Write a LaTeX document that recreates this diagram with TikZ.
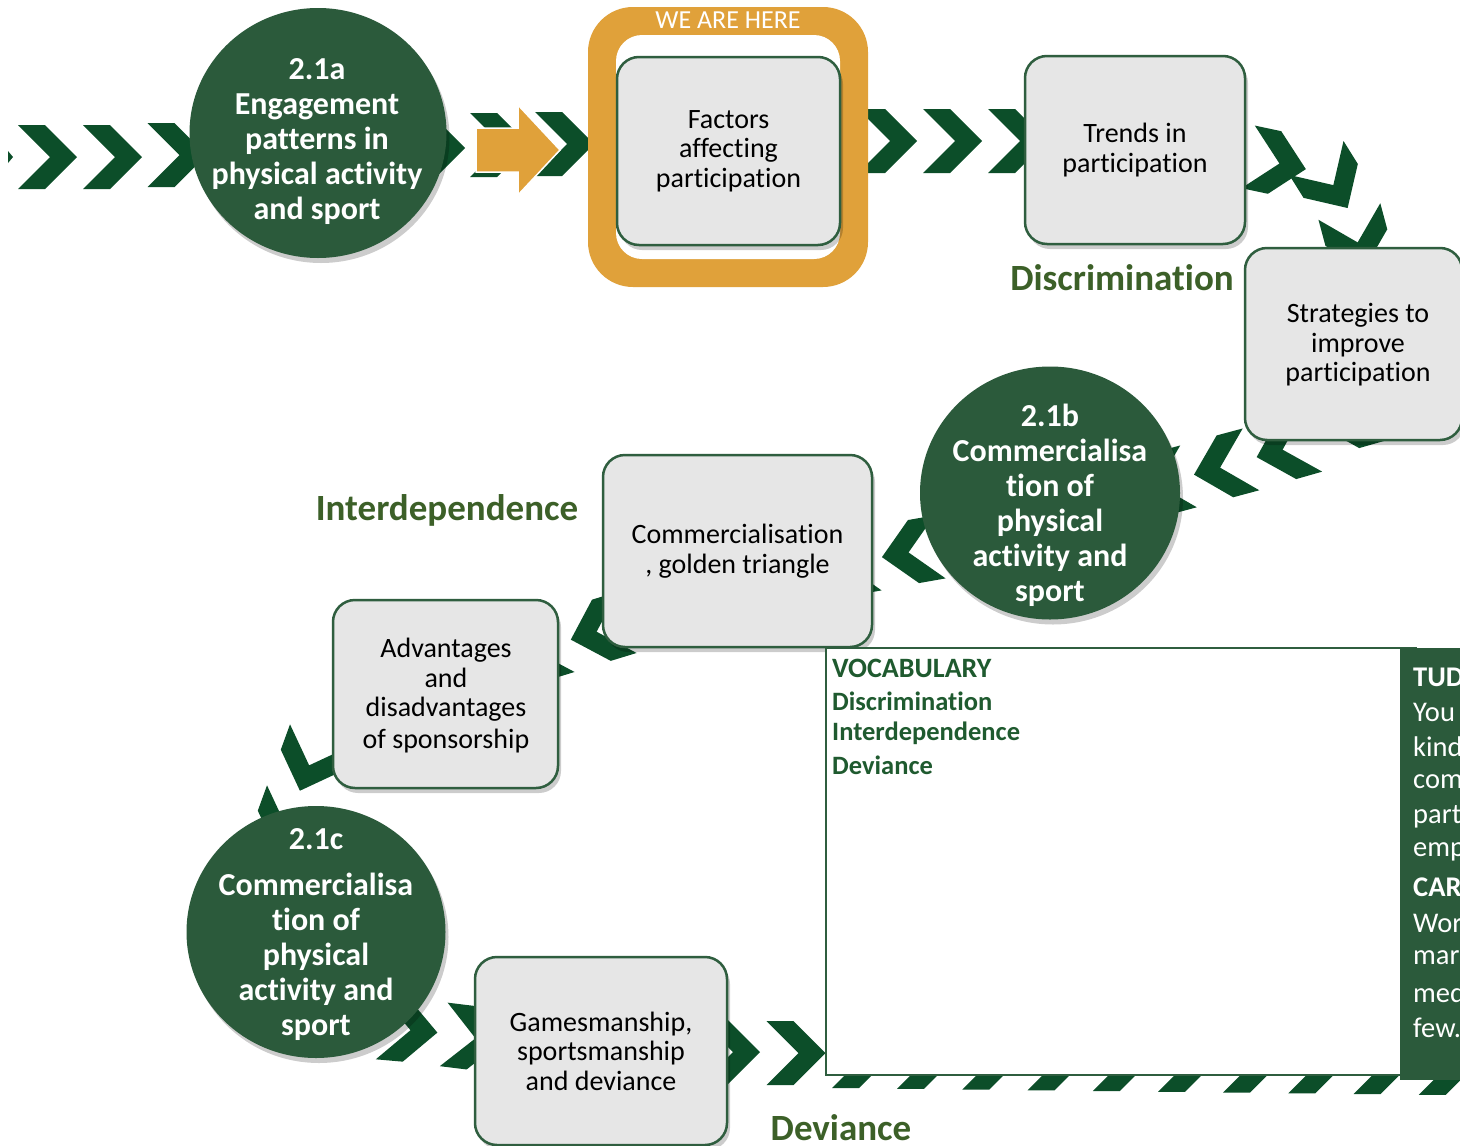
\documentclass[tikz,border=0pt]{standalone}
\usepackage{fontspec}
\setmainfont{Carlito}[Ligatures=NoCommon]
\usetikzlibrary{shapes.geometric,shadows}
\definecolor{circc}{HTML}{2B5A3B}
\definecolor{chevc}{HTML}{0C4E29}
\definecolor{orngc}{HTML}{E0A13A}
\definecolor{boxf}{HTML}{E6E6E6}
\definecolor{boxd}{HTML}{2F5E3F}
\definecolor{lblc}{HTML}{3C6028}
\definecolor{vocc}{HTML}{1F5A2F}
\tikzset{
  chevron/.pic={\fill[chevc] (-29.5,32) -- (-2.5,32) -- (29.5,0) -- (-2.5,-32) -- (-29.5,-32) -- (2.5,0) -- cycle;},
  softshadow/.style={drop shadow={shadow xshift=3pt, shadow yshift=-5pt, opacity=0.2, fill=black}},
  topic/.style={ellipse, fill=circc, inner sep=0pt, softshadow},
  ctext/.style={text=white, align=center, inner sep=0pt, font=\fontsize{32}{35}\selectfont\bfseries},
  stepbox/.style={rectangle, rounded corners=22pt, fill=boxf, draw=boxd, line width=2.5pt, align=center, inner sep=0pt, font=\fontsize{28}{29.5}\selectfont, softshadow},
  steptext/.style={align=center, inner sep=0pt, font=\fontsize{28}{29.5}\selectfont},
  theme/.style={text=lblc, inner sep=0pt, font=\fontsize{37}{40}\selectfont\bfseries},
  vocab/.style={text=vocc, anchor=west, inner sep=0pt, font=\fontsize{26.5}{30}\selectfont\bfseries},
  paneltext/.style={text=white, anchor=west, inner sep=0pt, font=\fontsize{28.5}{32}\selectfont},
}
\begin{document}
\begin{tikzpicture}[x=1pt,y=-1pt]
\useasboundingbox (0,0) rectangle (1460,1146);
\clip (0,0) rectangle (1460,1146);
\fill[white] (0,0) rectangle (1460,1146);

% ---- chevron trail ----
\fill[chevc] (8,151) -- (13,157) -- (8,163) -- cycle;
\pic at (47.5,157) {chevron};
\pic at (112.5,157) {chevron};
\pic at (177,155) {chevron};
\pic at (435.5,148) {chevron};
\pic at (499.5,145) {chevron};
\pic at (564.5,144) {chevron};
\pic at (887.5,141) {chevron};
\pic at (952.5,141) {chevron};
\pic at (1017.5,141) {chevron};
\pic[rotate=-12] at (1277,163) {chevron};
\pic[rotate=-58] at (1332,183) {chevron};
\pic[rotate=-75] at (1357,240) {chevron};
\pic[rotate=-164] at (1348,418) {chevron};
\pic[rotate=-164] at (1285,449) {chevron};
\pic[rotate=-165] at (1222.5,467) {chevron};
\pic[rotate=-165] at (1160,484) {chevron};
\pic[rotate=-170] at (911,552) {chevron};
\pic[rotate=-170] at (847,564) {chevron};
\pic[rotate=-163] at (599,631) {chevron};
\pic[rotate=-163] at (537,650) {chevron};
\pic[rotate=-110] at (310,763) {chevron};
\pic[rotate=-110] at (287,824) {chevron};
\pic[rotate=-5] at (408,1030) {chevron};
\pic[rotate=-7] at (473,1038) {chevron};
\pic at (730.5,1052) {chevron};
\pic at (796,1053) {chevron};
\foreach \k in {0,...,9}{
  \pic at ({861.5+65.2*\k},{1056+0.75*\k}) {chevron};
}

% ---- topic circles ----
\node[topic, minimum width=257pt, minimum height=250pt] (c1) at (318,133) {};
\node[ctext] (c1t) at (317,142) {2.1a\\Engagement\\patterns in\\physical activity\\and sport};
\node[topic, minimum width=260pt, minimum height=253pt] (c2) at (1050,493) {};
\node[ctext] (c2t) at (1050,505) {2.1b\\Commercialisa\\tion of\\physical\\activity and\\sport};
\node[topic, minimum width=259pt, minimum height=252pt] (c3) at (316,932) {};
\node[ctext] (c3a) at (316,839) {2.1c};
\node[ctext] (c3t) at (316,957) {Commercialisa\\tion of\\physical\\activity and\\sport};

% ---- WE ARE HERE frame ----
\fill[orngc, rounded corners=45pt] (588,7) rectangle (868,287);
\fill[white, rounded corners=26pt] (616,35) rectangle (840,259);
\node[text=white, inner sep=0pt, font=\fontsize{26}{28}\selectfont] (here) at (728,20) {WE ARE HERE};

% ---- orange arrow ----
\filldraw[fill=orngc, draw=white, line width=1.5pt] (476,128) -- (518,128) -- (518,105) -- (560,150) -- (518,195) -- (518,172) -- (476,172) -- cycle;

% ---- step boxes ----
\node[stepbox, minimum width=223pt, minimum height=188pt] (b1) at (728.5,151) {Factors\\affecting\\participation};
\node[stepbox, minimum width=220pt, minimum height=188pt] (b2) at (1135,150) {Trends in\\participation};
\node[stepbox, minimum width=217pt, minimum height=192pt] (b3) at (1353.5,344) {};
\node[steptext] (b3t) at (1358,345) {Strategies to\\improve\\participation};
\node[stepbox, minimum width=269pt, minimum height=192pt] (b4) at (737.5,551) {Commercialisation\\, golden triangle};
\node[stepbox, minimum width=225pt, minimum height=188pt] (b5) at (445.5,694) {};
\node[steptext] (b5t) at (446,696) {Advantages\\and\\disadvantages\\[2.5pt]of sponsorship};
\node[stepbox, minimum width=252pt, minimum height=188pt] (b6) at (601,1051) {Gamesmanship,\\sportsmanship\\and deviance};

% ---- theme labels ----
\node[theme] (t1) at (1122,278) {Discrimination};
\node[theme] (t2) at (447,510) {Interdependence};
\node[theme, anchor=base] (t3) at (841,1140) {Deviance};

% ---- vocabulary box ----
\node[draw=boxd, fill=white, line width=2.5pt, minimum width=590pt, minimum height=427pt, inner sep=0pt] (voc) at (1121,861.5) {};
\node[vocab, font=\fontsize{28}{30}\selectfont\bfseries] (v0) at (832,668) {VOCABULARY};
\node[vocab] (v1) at (832,701) {Discrimination};
\node[vocab] (v2) at (832,733) {Interdependence};
\node[vocab] (v3) at (832,765) {Deviance};

% ---- side panel ----
\node[fill=circc, minimum width=70pt, minimum height=432pt, inner sep=0pt] (panel) at (1435,864) {};
\node[paneltext, font=\fontsize{28.5}{32}\selectfont\bfseries] (p1) at (1413,677) {TUD};
\node[paneltext] (p2) at (1413,712) {You};
\node[paneltext] (p3) at (1413,747) {kind};
\node[paneltext] (p4) at (1413,782) {com};
\node[paneltext] (p5) at (1413,817) {part};
\node[paneltext] (p6) at (1413,852) {emp};
\node[paneltext, font=\fontsize{28.5}{32}\selectfont\bfseries] (p7) at (1413,887) {CAR};
\node[paneltext] (p8) at (1413,923) {Wor};
\node[paneltext] (p9) at (1413,958) {mar};
\node[paneltext] (p10) at (1413,993) {med};
\node[paneltext] (p11) at (1413,1028) {few.};
\end{tikzpicture}
\end{document}
